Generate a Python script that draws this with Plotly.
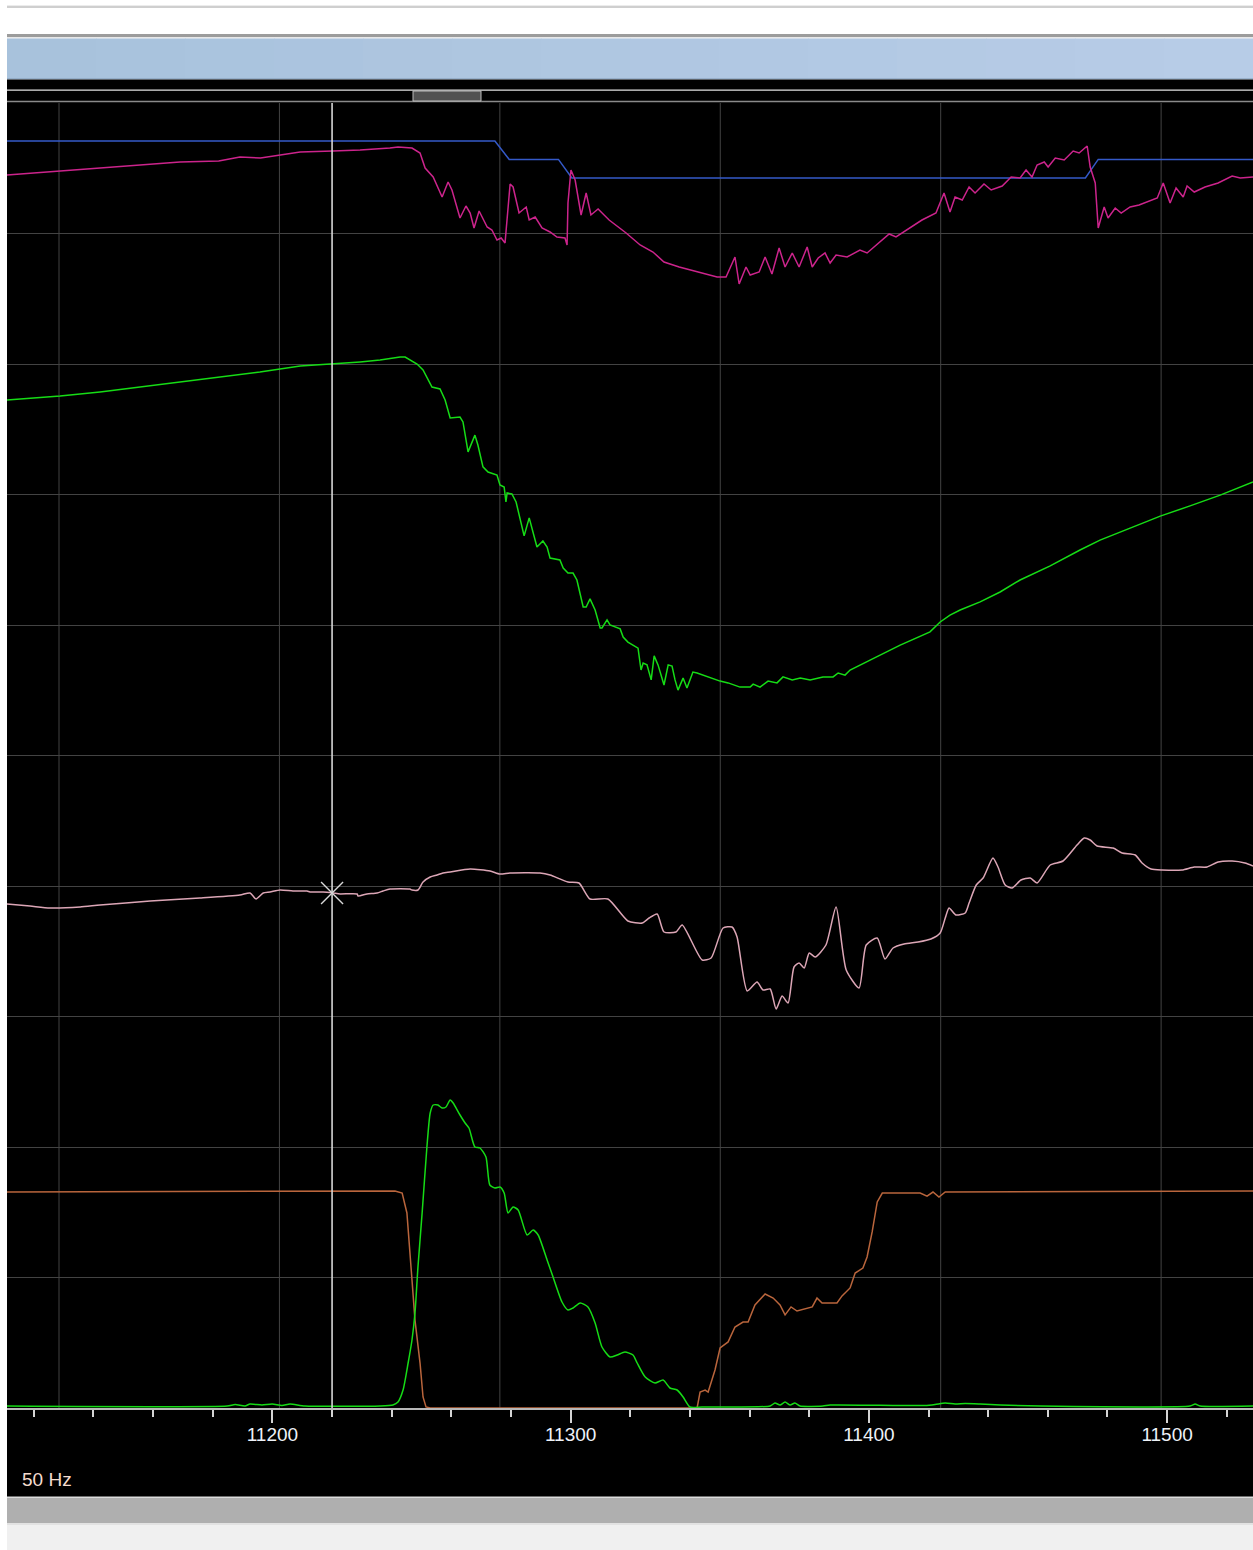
import numpy as np
import plotly.graph_objects as go

W, H = 1253, 1550

# ---------------- channel data (x = lap distance) ----------------
X_RANGE = [11111.0, 11528.8]
CURSOR_X = 11220.0

GEAR_X = [11111.0, 11274.6, 11279.4, 11295.9, 11300.4, 11472.6, 11476.9, 11528.8]
GEAR = [6, 6, 5, 5, 4, 4, 5, 5]

RPM = [
    (11111.0, 7660), (11128.8, 7740), (11148.9, 7840), (11169.0, 7920), (11182.0, 7940),
    (11189.1, 8020), (11196.0, 8000), (11209.3, 8120), (11220.3, 8140), (11229.4, 8160),
    (11239.4, 8200), (11242.1, 8220), (11246.8, 8200), (11249.5, 8100), (11251.2, 7800),
    (11253.9, 7620), (11256.9, 7220), (11258.9, 7520), (11260.2, 7360), (11262.9, 6800),
    (11264.9, 7040), (11266.3, 6900), (11267.6, 6600), (11269.3, 6940), (11272.0, 6620),
    (11273.6, 6560), (11275.3, 6360), (11276.7, 6400), (11278.0, 6300), (11279.7, 7480),
    (11280.7, 7420), (11282.7, 6900), (11285.1, 7020), (11286.1, 6760), (11288.1, 6820),
    (11290.4, 6600), (11293.1, 6520), (11295.4, 6420), (11298.1, 6400), (11298.8, 6260),
    (11299.1, 7100), (11300.1, 7760), (11301.5, 7560), (11303.5, 6860), (11305.2, 7300),
    (11306.8, 6860), (11309.2, 6980), (11312.9, 6760), (11318.6, 6500), (11323.3, 6260),
    (11327.6, 6120), (11331.3, 5920), (11336.4, 5820), (11343.7, 5700), (11349.1, 5620),
    (11352.1, 5620), (11355.1, 6020), (11356.5, 5480), (11358.8, 5820), (11360.2, 5660),
    (11363.2, 5720), (11365.2, 6020), (11367.5, 5680), (11369.9, 6200), (11371.9, 5820),
    (11374.3, 6100), (11376.6, 5820), (11379.3, 6220), (11381.0, 5820), (11383.0, 6000),
    (11385.3, 6100), (11387.0, 5900), (11389.0, 6060), (11392.7, 6020), (11397.0, 6160),
    (11399.4, 6100), (11403.1, 6300), (11406.8, 6480), (11409.1, 6420), (11413.5, 6600),
    (11417.8, 6760), (11422.5, 6900), (11425.2, 7300), (11427.2, 6920), (11428.9, 7220),
    (11431.3, 7160), (11433.6, 7420), (11435.6, 7300), (11438.6, 7480), (11441.0, 7360),
    (11444.7, 7440), (11447.7, 7620), (11450.7, 7600), (11452.7, 7760), (11454.7, 7620),
    (11456.4, 7860), (11458.8, 7920), (11460.1, 7820), (11462.5, 8000), (11465.5, 7960),
    (11468.5, 8140), (11470.5, 8100), (11473.2, 8240), (11474.2, 7820), (11475.9, 7500),
    (11476.9, 6600), (11478.9, 7020), (11480.2, 6800), (11482.6, 7000), (11484.6, 6900),
    (11487.6, 7020), (11490.6, 7060), (11494.3, 7140), (11496.7, 7200), (11498.7, 7500),
    (11501.0, 7100), (11503.0, 7400), (11505.4, 7220), (11506.7, 7440), (11509.1, 7320),
    (11512.7, 7420), (11517.1, 7500), (11521.8, 7640), (11524.5, 7600), (11528.8, 7620),
]

SPEED = [
    (11111.0, 206.0), (11128.8, 207.3), (11142.2, 208.7), (11159.0, 210.7), (11175.7, 212.7),
    (11189.1, 214.3), (11195.8, 215.3), (11209.3, 217.3), (11220.3, 218.0), (11229.4, 218.7),
    (11236.1, 219.3), (11242.8, 220.3), (11244.5, 220.3), (11248.5, 218.0), (11250.5, 216.0),
    (11253.5, 210.3), (11256.2, 209.7), (11257.9, 206.0), (11259.6, 200.0), (11262.9, 200.3),
    (11263.9, 198.7), (11265.6, 188.7), (11267.9, 194.3), (11268.9, 191.0), (11270.6, 183.7),
    (11272.3, 182.0), (11275.3, 181.0), (11276.3, 177.7), (11277.7, 177.0), (11278.3, 172.0),
    (11278.7, 175.0), (11280.3, 174.7), (11281.7, 172.0), (11283.0, 166.0), (11284.4, 160.7),
    (11286.1, 166.7), (11287.1, 163.3), (11288.7, 157.0), (11290.7, 159.0), (11292.1, 157.0),
    (11293.1, 153.3), (11296.4, 152.7), (11297.5, 150.0), (11299.1, 148.3), (11300.8, 148.3),
    (11302.1, 146.0), (11304.2, 137.0), (11305.2, 137.0), (11306.5, 139.7), (11308.2, 136.0),
    (11309.9, 130.0), (11310.5, 130.0), (11312.2, 132.7), (11313.2, 131.0), (11316.6, 129.7),
    (11317.6, 127.0), (11319.2, 125.3), (11320.9, 124.3), (11322.6, 123.3), (11323.6, 116.0),
    (11324.3, 118.3), (11325.6, 117.7), (11327.0, 112.7), (11328.0, 120.7), (11329.3, 117.7),
    (11331.3, 111.0), (11332.7, 117.7), (11334.0, 117.3), (11335.0, 112.7), (11336.0, 109.3),
    (11337.7, 113.3), (11339.0, 110.0), (11341.0, 115.3), (11342.4, 115.0), (11347.4, 113.3),
    (11350.1, 112.3), (11352.8, 111.7), (11356.8, 110.3), (11360.2, 110.3), (11361.2, 111.3),
    (11363.5, 110.3), (11366.2, 112.3), (11369.2, 111.7), (11371.2, 113.7), (11374.3, 112.7),
    (11377.0, 113.3), (11380.3, 112.7), (11384.6, 113.7), (11388.0, 113.7), (11389.7, 115.0),
    (11392.0, 114.3), (11393.7, 116.0), (11400.4, 119.3), (11410.5, 124.3), (11420.5, 128.7),
    (11423.9, 132.0), (11427.2, 134.3), (11430.6, 136.0), (11437.3, 138.7), (11444.0, 142.0),
    (11450.7, 146.0), (11460.8, 150.7), (11470.8, 156.0), (11477.5, 159.3), (11487.6, 163.3),
    (11497.7, 167.3), (11507.7, 170.7), (11517.8, 174.3), (11528.8, 178.7),
]

LAT_G = [
    (11111.0, -0.18), (11118.7, -0.20), (11125.4, -0.22), (11135.5, -0.21), (11142.2, -0.19),
    (11159.0, -0.15), (11175.7, -0.12), (11189.1, -0.09), (11192.5, -0.07), (11194.5, -0.13),
    (11196.9, -0.07), (11199.2, -0.06), (11202.6, -0.04), (11206.9, -0.05), (11211.6, -0.05),
    (11212.6, -0.06), (11217.0, -0.06), (11220.3, -0.07), (11222.7, -0.08), (11228.4, -0.08),
    (11228.7, -0.10), (11231.7, -0.08), (11235.1, -0.07), (11237.1, -0.05), (11239.4, -0.03),
    (11246.1, -0.03), (11246.8, -0.04), (11248.8, -0.04), (11250.5, 0.04), (11252.9, 0.09),
    (11255.2, 0.11), (11257.2, 0.13), (11259.6, 0.14), (11266.3, 0.17), (11273.0, 0.15),
    (11276.3, 0.12), (11279.7, 0.13), (11289.7, 0.13), (11293.1, 0.11), (11299.1, 0.04),
    (11302.8, 0.03), (11306.5, -0.13), (11312.5, -0.13), (11319.2, -0.35), (11324.0, -0.37),
    (11326.3, -0.32), (11329.0, -0.28), (11331.3, -0.46), (11335.3, -0.46), (11337.4, -0.39),
    (11344.1, -0.74), (11347.1, -0.72), (11351.1, -0.42), (11354.1, -0.41), (11355.8, -0.51),
    (11359.2, -1.05), (11362.5, -0.96), (11364.5, -1.04), (11366.9, -1.03), (11368.9, -1.23),
    (11370.9, -1.10), (11372.9, -1.17), (11374.9, -0.81), (11376.6, -0.77), (11378.3, -0.82),
    (11380.0, -0.67), (11382.0, -0.71), (11385.6, -0.59), (11389.0, -0.21), (11392.4, -0.84),
    (11396.7, -1.02), (11399.1, -0.59), (11402.8, -0.52), (11405.4, -0.73), (11408.1, -0.62),
    (11411.8, -0.58), (11416.5, -0.56), (11420.8, -0.53), (11423.9, -0.47), (11425.6, -0.32),
    (11426.9, -0.22), (11429.2, -0.29), (11432.3, -0.27), (11433.6, -0.17), (11436.0, 0.01),
    (11438.3, 0.08), (11441.6, 0.28), (11443.3, 0.19), (11445.7, 0.01), (11448.0, -0.02),
    (11451.0, 0.06), (11454.1, 0.08), (11456.4, 0.03), (11460.8, 0.21), (11465.1, 0.25),
    (11469.8, 0.41), (11472.2, 0.48), (11474.2, 0.46), (11476.5, 0.40), (11481.9, 0.38),
    (11484.9, 0.33), (11489.3, 0.31), (11491.6, 0.23), (11494.6, 0.17), (11498.3, 0.16),
    (11505.0, 0.16), (11509.1, 0.19), (11513.4, 0.19), (11517.1, 0.24), (11521.8, 0.25),
    (11526.1, 0.23), (11528.8, 0.20),
]

THROTTLE = [
    (11111.0, 100.0), (11241.1, 100.5), (11243.5, 99.5), (11245.1, 90.3), (11246.8, 59.3),
    (11247.8, 40.7), (11249.5, 20.8), (11250.5, 5.1), (11251.5, 0.5), (11252.9, 0.0),
    (11342.4, 0.0), (11343.4, 7.4), (11345.1, 8.3), (11346.1, 7.4), (11348.4, 17.6),
    (11350.1, 27.8), (11352.8, 30.6), (11355.1, 37.5), (11357.8, 39.8), (11359.5, 39.8),
    (11361.8, 47.7), (11365.2, 52.8), (11367.9, 50.9), (11370.2, 47.7), (11371.9, 43.1),
    (11373.9, 46.8), (11375.9, 44.9), (11381.0, 46.8), (11382.6, 50.9), (11384.3, 48.6),
    (11389.3, 48.6), (11391.0, 51.9), (11393.7, 55.6), (11395.4, 62.5), (11398.0, 64.8),
    (11399.4, 69.9), (11401.1, 81.5), (11402.8, 95.4), (11404.5, 99.5), (11417.2, 99.5),
    (11419.5, 98.1), (11421.5, 100.0), (11423.5, 97.7), (11425.6, 100.0), (11528.8, 100.5),
]

BRAKE = [
    (11111.0, 0.4), (11184.8, 0.4), (11187.5, 0.7), (11190.8, 0.4), (11192.5, 0.8),
    (11196.5, 0.6), (11199.9, 0.8), (11203.2, 0.5), (11205.9, 0.8), (11210.9, 0.4),
    (11236.1, 0.4), (11240.4, 0.6), (11242.1, 1.2), (11243.8, 3.6), (11245.5, 9.0),
    (11246.8, 13.6), (11247.8, 19.0), (11248.8, 28.2), (11250.2, 39.0), (11251.8, 52.2),
    (11252.9, 59.0), (11253.9, 60.6), (11255.5, 60.6), (11256.9, 60.0), (11258.2, 60.2),
    (11259.6, 61.6), (11260.6, 61.0), (11262.9, 58.6), (11264.6, 57.0), (11265.9, 56.0),
    (11267.9, 52.2), (11269.6, 52.0), (11271.6, 50.2), (11272.9, 44.6), (11274.6, 44.0),
    (11276.3, 44.2), (11277.7, 43.0), (11279.0, 39.0), (11280.7, 40.2), (11282.4, 39.6),
    (11285.4, 34.6), (11287.4, 35.6), (11289.1, 34.6), (11292.1, 29.6), (11294.1, 26.2),
    (11297.1, 21.2), (11299.1, 19.6), (11300.8, 20.0), (11303.2, 21.0), (11305.8, 20.2),
    (11308.2, 17.0), (11310.5, 12.2), (11313.2, 10.2), (11315.6, 10.6), (11318.2, 11.2),
    (11320.9, 10.6), (11322.3, 9.0), (11325.0, 6.2), (11328.3, 5.0), (11331.0, 5.6),
    (11333.3, 4.0), (11335.7, 3.6), (11337.7, 2.2), (11340.0, 0.2), (11344.1, 0.2),
    (11366.9, 0.4), (11368.5, 1.0), (11370.2, 0.6), (11371.9, 1.2), (11373.6, 0.6),
    (11375.2, 1.0), (11376.9, 0.4), (11384.6, 0.4), (11387.0, 0.6), (11418.8, 0.5),
    (11422.2, 0.7), (11425.6, 1.0), (11428.9, 0.8), (11432.3, 0.9), (11437.3, 0.8),
    (11444.0, 0.6), (11457.4, 0.4), (11507.7, 0.4), (11509.4, 0.8), (11511.0, 0.4),
    (11528.8, 0.4),
]

# Display range of each channel across the full trace height (logger-style scaling)
GEAR_RANGE = [-62.49, 8.05]
RPM_RANGE = [-17000, 9100]
SPEED_RANGE = [-130, 305]
LATG_RANGE = [-5.22, 7.83]
THROTTLE_RANGE = [0, 604.2]
BRAKE_RANGE = [0, 261]

# time-base grid of the trace window
N_DIV_Y = 10
GRID_X0, GRID_DX, N_GRID_X = 11128.44, 73.91, 6

# ---------------- styling ----------------
GRID = "#434343"
FONT = "Liberation Sans, Arial, sans-serif"
C_GEAR = "#3459c8"
C_RPM = "#cc248c"
C_SPEED = "#16dc16"
C_LAT = "#dca6b6"
C_THR = "#b9653c"
C_BRK = "#16dc16"

# trace window in page pixels
PX_L, PX_T, PX_B = 7, 103, 1408
X_DOMAIN = [PX_L / W, 1.0]
Y_DOMAIN = [1 - PX_B / H, 1 - PX_T / H]


def unzip(pairs):
    xs, ys = zip(*pairs)
    return list(xs), list(ys)


def band(x0, y0, x1, y1, color, layer="below"):
    return dict(type="rect", xref="paper", yref="paper",
                x0=x0 / W, x1=x1 / W, y0=1 - y1 / H, y1=1 - y0 / H,
                fillcolor=color, line_width=0, layer=layer)


fig = go.Figure()


def add_channel(xs, ys, yaxis, color, shape="linear", width=1.5):
    line = dict(color=color, width=width, shape=shape)
    if shape == "spline":
        line["smoothing"] = 0.6
    fig.add_trace(go.Scatter(
        x=xs, y=ys, xaxis="x", yaxis=yaxis, mode="lines", line=line,
        hoverinfo="skip", showlegend=False,
    ))


rpm_x, rpm_v = unzip(RPM)
spd_x, spd_v = unzip(SPEED)
lat_x, lat_v = unzip(LAT_G)
thr_x, thr_v = unzip(THROTTLE)
brk_x, brk_v = unzip(BRAKE)

# throttle lives on the base axis, which also carries the horizontal grid
add_channel(thr_x, thr_v, "y", C_THR)
add_channel(rpm_x, rpm_v, "y3", C_RPM)
add_channel(GEAR_X, GEAR, "y2", C_GEAR)
add_channel(spd_x, spd_v, "y4", C_SPEED)
add_channel(lat_x, lat_v, "y5", C_LAT, shape="spline")
add_channel(brk_x, brk_v, "y7", C_BRK, shape="spline")

# cursor crosshair on the lateral-g channel
lat_at_cursor = float(np.interp(CURSOR_X, lat_x, lat_v))
fig.add_trace(go.Scatter(
    x=[CURSOR_X], y=[lat_at_cursor], xaxis="x", yaxis="y5", mode="markers",
    marker=dict(symbol="x-thin-open", size=22, color="#d8d8d8",
                line=dict(color="#d8d8d8", width=1.4)),
    hoverinfo="skip", showlegend=False,
))

# ---------------- window chrome ----------------
shapes = [
    band(PX_L, 5, W, 6, "#ececec"),
    band(PX_L, 6, W, 8, "#cfcfcf"),
    band(PX_L, 34, W, 37, "#9c9c9c"),
    band(PX_L, 37, W, 38.5, "#e8e8e8"),
]
# header bar with soft left-to-right gradient
n_strips = 14
edges = np.linspace(PX_L, W, n_strips + 1)
c0, c1 = np.array([168, 194, 220]), np.array([183, 204, 231])
for i in range(n_strips):
    c = (c0 + (c1 - c0) * i / (n_strips - 1)).round().astype(int)
    shapes.append(band(edges[i], 38.5, edges[i + 1] + 0.5, 79, "rgb(%d,%d,%d)" % tuple(c)))
shapes += [
    band(PX_L, 78.5, W, 79.5, "#7f97b3"),
    band(PX_L, 79.5, W, 1497, "#000000"),
    band(PX_L, 89.5, W, 90.8, "#e2e2e2"),
    band(PX_L, 100.8, W, 102.2, "#8a8a8a"),
    # overview scroll thumb
    dict(type="rect", xref="paper", yref="paper",
         x0=413 / W, x1=481 / W, y0=1 - 101 / H, y1=1 - 91 / H,
         fillcolor="#525252", line=dict(color="#bdbdbd", width=1), layer="below"),
    band(PX_L, 1496.5, W, 1498, "#dcdcdc"),
    band(PX_L, 1498, W, 1523, "#afafaf"),
    band(PX_L, 1523, W, 1525, "#e2e2e2"),
    band(PX_L, 1525, W, H, "#f0f0f0"),
]
# vertical grid of the trace window
for k in range(N_GRID_X):
    gx = GRID_X0 + k * GRID_DX
    shapes.append(dict(type="line", xref="x", yref="y", x0=gx, x1=gx,
                       y0=THROTTLE_RANGE[0], y1=THROTTLE_RANGE[1],
                       line=dict(color=GRID, width=1), layer="below"))
# cursor line
shapes.append(dict(type="line", xref="x", yref="y", x0=CURSOR_X, x1=CURSOR_X,
                   y0=THROTTLE_RANGE[0], y1=THROTTLE_RANGE[1],
                   line=dict(color="#d6d6d6", width=1.6), layer="above"))

hidden = dict(overlaying="y", anchor="x", visible=False)

fig.update_layout(
    width=W, height=H, autosize=False,
    margin=dict(l=0, r=0, t=0, b=0, pad=0),
    paper_bgcolor="#ffffff", plot_bgcolor="#000000",
    font=dict(family=FONT, color="#eef0f4", size=19),
    showlegend=False,
    xaxis=dict(domain=X_DOMAIN, range=X_RANGE, anchor="y", side="bottom",
               tick0=0, dtick=100, tickformat="d", ticks="outside", ticklen=13, tickwidth=1.5,
               tickcolor="#d4d4d4", showline=True, linecolor="#b8b8b8", linewidth=2,
               showgrid=False, zeroline=False, fixedrange=True, ticklabelstandoff=-5,
               tickfont=dict(family=FONT, size=19, color="#eef2f8"),
               minor=dict(dtick=20, tick0=0, ticks="outside", ticklen=7,
                          tickwidth=1.5, tickcolor="#d4d4d4", showgrid=False)),
    yaxis=dict(domain=Y_DOMAIN, range=THROTTLE_RANGE, anchor="x",
               tick0=THROTTLE_RANGE[0], dtick=(THROTTLE_RANGE[1] - THROTTLE_RANGE[0]) / N_DIV_Y,
               showgrid=True, gridcolor=GRID, gridwidth=1,
               showticklabels=False, ticks="", zeroline=False, fixedrange=True),
    yaxis2=dict(range=GEAR_RANGE, **hidden),
    yaxis3=dict(range=RPM_RANGE, **hidden),
    yaxis4=dict(range=SPEED_RANGE, **hidden),
    yaxis5=dict(range=LATG_RANGE, **hidden),
    yaxis7=dict(range=BRAKE_RANGE, **hidden),
    shapes=shapes,
    annotations=[dict(text="50 Hz", xref="paper", yref="paper",
                      x=20 / W, y=1 - 1479 / H, xanchor="left", yanchor="middle",
                      showarrow=False, font=dict(family=FONT, size=19, color="#f4dccf"))],
)

fig.write_html("out.html")
